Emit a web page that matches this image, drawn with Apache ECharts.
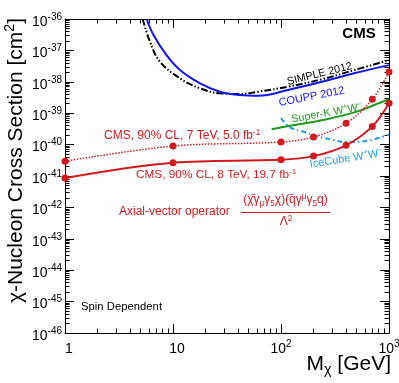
<!DOCTYPE html>
<html>
<head>
<meta charset="utf-8">
<script src="https://cdn.jsdelivr.net/npm/echarts@6/dist/echarts.min.js"></script>
<style>
  html, body { margin: 0; padding: 0; background: #fff; }
  #chart { width: 399px; height: 383px; }
</style>
</head>
<body>
<div id="chart"></div>
<script>
// limits (cm^2 vs GeV)
var cmsMass = [1, 10, 100, 200, 400, 700, 1000]
var cms8 = [8.6e-42, 2.65e-41, 3.3e-41, 4.3e-41, 9.5e-41, 3.8e-40, 2.07e-39]
var cms7 = [2.94e-41, 9.0e-41, 1.21e-40, 1.75e-40, 4.8e-40, 2.77e-39, 2.05e-38]

var couppMass = [5.7, 6.6, 8.7, 11.6, 17.8, 27.2, 41.7, 61.6, 116, 240, 484, 1000]
var coupp = [1e-36, 3.09e-37, 7.1e-38, 2.38e-38, 8.96e-39, 4.84e-39, 3.8e-39, 3.6e-39, 5.5e-39, 1.0e-38, 1.9e-38, 3.4e-38]

var simpleMass = [5.24, 6.12, 7.58, 11.6, 17.8, 27.2, 41.7, 61.6, 117, 238, 484, 1000]
var simple = [1e-36, 1.89e-37, 4.37e-38, 1.29e-38, 6.2e-39, 4.3e-39, 4.1e-39, 4.84e-39, 7.0e-39, 1.2e-38, 2.4e-38, 4.9e-38]

var superkMass = [82, 121, 246, 503, 769, 1000]
var superk = [3.07e-40, 4.0e-40, 6.07e-40, 1.12e-39, 1.96e-39, 2.77e-39]

var icecubeMass = [100, 120, 160, 200, 280, 400, 650, 1000]
var icecube = [7e-40, 3.6e-40, 2.6e-40, 2.0e-40, 1.5e-40, 1.2e-40, 1.35e-40, 2.1e-40]

var xMajor = [1, 10, 100, 1000]
var yExponents = [-46, -45, -44, -43, -42, -41, -40, -39, -38, -37, -36]

// echarts rounds very small numbers, so the y axis runs in units of 1e-46 cm^2
var Y_UNIT = 1e-46
var yMajor = yExponents.map(function (e) { return Math.pow(10, e + 46) })

var FONT = "'Liberation Sans', Arial, Helvetica, sans-serif"
var RED = '#d11a1f'
var BLUE = '#1414ee'
var GREEN = '#1f9a1f'
var CYAN = '#1f9fe8'

function minors(majors) {
  var out = []
  for (var i = 0; i < majors.length - 1; i++) {
    for (var m = 2; m <= 9; m++) out.push(m * majors[i])
  }
  return out
}
function zip(xs, ys) {
  return xs.map(function (x, i) { return [x, ys[i] / Y_UNIT] })
}

var supRich = {
  sup: { fontSize: 10, lineHeight: 10, padding: [0, 0, 10, 0], fontFamily: FONT, color: '#000' },
  a: { fontSize: 14, padding: [0, 0, 0, 8], fontFamily: FONT, color: '#000' }
}

function xAxisOf(grid, pos, major, showLabel) {
  return {
    gridIndex: grid, type: 'log', logBase: 10, min: 1, max: 1000, position: pos,
    axisLine: { show: major, onZero: false, lineStyle: { color: '#000', width: 1 } },
    axisTick: { show: true, inside: true, length: major ? 9 : 4.5,
      customValues: major ? xMajor : minors(xMajor), lineStyle: { color: '#000', width: 1 } },
    minorTick: { show: false },
    splitLine: { show: false },
    axisLabel: showLabel ? {
      customValues: xMajor, margin: 4, fontSize: 14, lineHeight: 24, color: '#000', fontFamily: FONT,
      formatter: function (v) {
        var e = Math.round(Math.log10(v))
        if (e === 0) return '{a|1}'
        if (e === 1) return '{a|10}'
        return '10{sup|' + e + '}'
      },
      rich: supRich
    } : { show: false }
  }
}
function yAxisOf(grid, pos, major, showLabel) {
  return {
    gridIndex: grid, type: 'log', logBase: 10, min: 1, max: 1e10, position: pos,
    axisLine: { show: major, onZero: false, lineStyle: { color: '#000', width: 1 } },
    axisTick: { show: true, inside: true, length: major ? 9 : 4.5,
      customValues: major ? yMajor : minors(yMajor), lineStyle: { color: '#000', width: 1 } },
    minorTick: { show: false },
    splitLine: { show: false },
    axisLabel: showLabel ? {
      customValues: yMajor, margin: 3, fontSize: 14, lineHeight: 24, padding: [6, 0, 0, 0],
      color: '#000', fontFamily: FONT,
      formatter: function (v) { return '10{sup|' + (Math.round(Math.log10(v)) - 46) + '}' },
      rich: supRich
    } : { show: false }
  }
}

function curve(name, xs, ys, color, width, type) {
  return {
    name: name, type: 'line', xAxisIndex: 0, yAxisIndex: 0,
    data: zip(xs, ys), smooth: 0.4, showSymbol: false, symbol: 'none',
    lineStyle: { color: color, width: width, type: type, cap: 'butt' }
  }
}
function cmsLine(name, ys, type, width) {
  return {
    name: name, type: 'line', xAxisIndex: 0, yAxisIndex: 0,
    data: zip(cmsMass, ys), smooth: 0.35, symbol: 'circle', symbolSize: 7,
    itemStyle: { color: RED },
    lineStyle: { color: RED, width: width, type: type }
  }
}

function label(text, x, y, color, size, deg, extra) {
  var o = {
    type: 'text', x: x, y: y, rotation: (deg || 0) * Math.PI / 180, z: 100,
    style: {
      text: text, fill: color, fontSize: size, fontFamily: FONT,
      align: 'center', textAlign: 'center', verticalAlign: 'middle', textVerticalAlign: 'middle',
      rich: {
        sup: { fontSize: size * 0.68, lineHeight: size * 0.68, padding: [0, 0, size * 0.6, 0], fill: color, fontFamily: FONT },
        sub: { fontSize: size * 0.68, lineHeight: size * 0.68, padding: [size * 0.6, 0, 0, 0], fill: color, fontFamily: FONT }
      }
    }
  }
  if (extra) {
    for (var k in extra) { o.style[k] = extra[k] }
  }
  return o
}

var box = { left: 65, top: 19, right: 10, bottom: 50, containLabel: false, outerBoundsMode: 'none' }

var chart = echarts.init(document.getElementById('chart'), null, { renderer: 'canvas' })
chart.setOption({
  animation: false,
  backgroundColor: '#fff',
  // second grid sits on top of the first one and only carries the minor ticks
  grid: [box, Object.assign({}, box)],
  xAxis: [
    xAxisOf(0, 'bottom', true, true),
    xAxisOf(0, 'top', true, false),
    xAxisOf(1, 'bottom', false, false),
    xAxisOf(1, 'top', false, false)
  ],
  yAxis: [
    yAxisOf(0, 'left', true, true),
    yAxisOf(0, 'right', true, false),
    yAxisOf(1, 'left', false, false),
    yAxisOf(1, 'right', false, false)
  ],
  series: [
    curve('SIMPLE 2012', simpleMass, simple, '#000', 2, [7, 2, 1.5, 2, 1.5, 2]),
    curve('COUPP 2012', couppMass, coupp, BLUE, 2, 'solid'),
    curve('Super-K', superkMass, superk, GREEN, 2, 'solid'),
    curve('IceCube', icecubeMass, icecube, CYAN, 2, [5, 3, 1.5, 3]),
    cmsLine('CMS 7 TeV', cms7, [1.5, 1.5], 1.5),
    cmsLine('CMS 8 TeV', cms8, 'solid', 2)
  ],
  graphic: [
    label('χ-Nucleon Cross Section [cm{sup|2}]', 16, 18, '#000', 21, 90, { align: 'right', textAlign: 'right' }),
    label('M{sub|χ} [GeV]', 391, 364, '#000', 21, 0, { align: 'right', textAlign: 'right' }),
    label('CMS', 359, 34, '#000', 15, 0, { fontWeight: 'bold' }),
    label('SIMPLE 2012', 319.5, 74, '#000', 10.8, 14),
    label('COUPP 2012', 311.7, 96.7, BLUE, 11, 11),
    label('Super-K W{sup|+}W{sup|−}', 326.7, 113.3, GREEN, 10.8, 10),
    label('IceCube W{sup|+}W{sup|−}', 346.2, 158.8, CYAN, 11, 9),
    label('CMS, 90% CL, 7 TeV, 5.0 fb{sup|-1}', 104, 136, RED, 12, 0, { align: 'left', textAlign: 'left' }),
    label('CMS, 90% CL, 8 TeV, 19.7 fb{sup|-1}', 136, 175, RED, 11.8, 0, { align: 'left', textAlign: 'left' }),
    label('Axial-vector operator', 119, 212, RED, 12, 0, { align: 'left', textAlign: 'left' }),
    label('(χ̄γ{sub|μ}γ{sub|5}χ)(q̄γ{sup|μ}γ{sub|5}q)', 285.5, 200, RED, 12),
    { type: 'line', z: 100, shape: { x1: 241, y1: 212.5, x2: 330, y2: 212.5 }, style: { stroke: RED, lineWidth: 1 } },
    label('Λ{sup|2}', 286, 222, RED, 12),
    label('Spin Dependent', 81, 307, '#000', 11.3, 0, { align: 'left', textAlign: 'left' })
  ]
})
</script>
</body>
</html>
